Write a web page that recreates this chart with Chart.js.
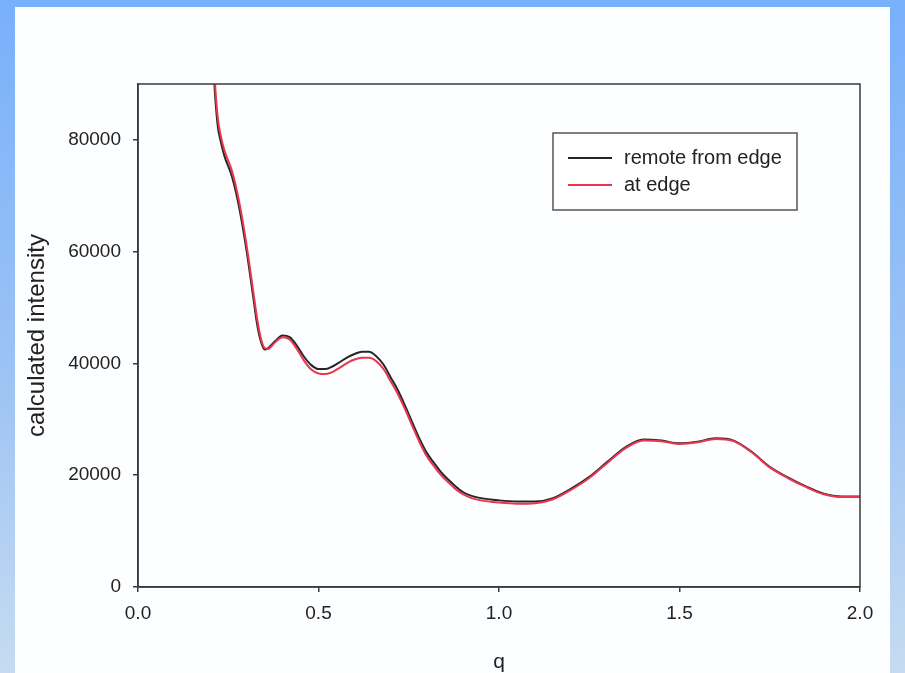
<!DOCTYPE html>
<html>
<head>
<meta charset="utf-8">
<script src="https://cdn.jsdelivr.net/npm/chart.js@4"></script>
<style>
  html, body { margin:0; padding:0; width:905px; height:673px; overflow:hidden; }
  body { background: linear-gradient(180deg, #78b0fb 0%, #9cc3f4 55%, #c6dbf1 100%); position:relative; }
  #panel { position:absolute; left:15px; top:7px; width:875px; height:680px; background:#fdfeff; }
  #c { position:absolute; left:0; top:0; }
</style>
</head>
<body>
<div id="panel"></div>
<canvas id="c" width="905" height="673"></canvas>
<script>
const qValues = [0.20,0.21,0.22,0.23,0.24,0.26,0.28,0.30,0.32,0.33,0.34,0.35,0.36,0.38,0.40,0.42,0.44,0.46,0.48,0.50,0.52,0.54,0.56,0.58,0.60,0.62,0.64,0.66,0.68,0.70,0.72,0.74,0.76,0.78,0.80,0.82,0.84,0.86,0.88,0.90,0.92,0.95,1.00,1.05,1.10,1.15,1.20,1.25,1.30,1.35,1.40,1.45,1.50,1.55,1.60,1.65,1.70,1.75,1.80,1.85,1.90,1.95,2.00];
const remoteFromEdge = [110000,92000,83000,79500,77000,73500,68000,60500,51500,47000,44000,42500,42700,44000,45000,44700,43200,41200,39700,39000,39000,39500,40300,41100,41700,42100,42100,41300,39800,37500,35200,32400,29400,26500,24000,22200,20500,19200,18000,17000,16400,15900,15500,15300,15300,15900,17600,19700,22400,25000,26400,26200,25700,26000,26600,26200,24200,21500,19600,18000,16700,16200,16200];
const atEdge = [112000,94000,84500,80500,78000,74500,69000,61500,52500,48000,44600,42800,42600,43800,44700,44300,42600,40500,38900,38200,38100,38500,39300,40100,40700,41000,41000,40400,39000,36800,34500,31800,28800,25900,23400,21600,20000,18700,17500,16600,16000,15500,15100,14900,15000,15700,17400,19500,22200,24800,26200,26100,25600,25900,26500,26100,24100,21400,19500,17900,16600,16100,16100];
const seriesLabels = ["remote from edge", "at edge"];
const xTicks = [0, 0.5, 1.0, 1.5, 2.0];
const yTicks = [0, 20000, 40000, 60000, 80000];

const FONT = "'Liberation Sans', Arial, sans-serif";
const TXT = '#222222';

const framePlugin = {
  id: 'frame',
  afterDraw(chart) {
    const {ctx, chartArea: a} = chart;
    ctx.save();
    ctx.strokeStyle = '#3a3a3a';
    ctx.lineWidth = 1.5;
    ctx.strokeRect(a.left, a.top, a.right - a.left, a.bottom - a.top);
    // legend box
    const bx = 553, by = 133, bw = 244, bh = 77;
    ctx.fillStyle = '#ffffff';
    ctx.fillRect(bx, by, bw, bh);
    ctx.strokeStyle = '#555';
    ctx.lineWidth = 1.5;
    ctx.strokeRect(bx, by, bw, bh);
    chart.data.datasets.slice().reverse().forEach((ds, i) => {
      const y = by + 25 + i * 27;
      ctx.strokeStyle = ds.borderColor;
      ctx.lineWidth = 2;
      ctx.beginPath(); ctx.moveTo(568, y); ctx.lineTo(612, y); ctx.stroke();
      ctx.fillStyle = TXT;
      ctx.font = "20px " + FONT;
      ctx.textBaseline = 'middle';
      ctx.textAlign = 'left';
      ctx.fillText(ds.label, 624, y);
    });
    ctx.restore();
  }
};

new Chart(document.getElementById('c'), {
  type: 'line',
  data: {
    datasets: [
      { label: seriesLabels[1], data: qValues.map((q, i) => ({x: q, y: atEdge[i]})), borderColor: '#e8364c', borderWidth: 2, pointRadius: 0, cubicInterpolationMode: 'monotone', fill: false },
      { label: seriesLabels[0], data: qValues.map((q, i) => ({x: q, y: remoteFromEdge[i]})), borderColor: '#262626', borderWidth: 2, pointRadius: 0, cubicInterpolationMode: 'monotone', fill: false }
    ]
  },
  options: {
    responsive: false,
    animation: false,
    devicePixelRatio: 1,
    layout: { padding: { top: 84, right: 45, left: 0, bottom: 0 } },
    plugins: { legend: { display: false }, tooltip: { enabled: false } },
    scales: {
      x: {
        type: 'linear', min: 0, max: 2,
        afterBuildTicks: s => { s.ticks = xTicks.map(v => ({value: v})); },
        afterFit: s => { s.height = 86; },
        grid: { display: true, drawOnChartArea: false, drawTicks: true, tickLength: 5, color: '#3a3a3a', lineWidth: 1.5 },
        border: { display: true, color: '#3a3a3a', width: 1.5 },
        ticks: { color: TXT, font: { family: FONT, size: 19 }, padding: 10, callback: v => Number(v).toFixed(1), maxRotation: 0 },
        title: { display: true, text: 'q', color: TXT, font: { family: FONT, size: 21, lineHeight: 1 }, padding: { top: 0, bottom: 0 } }
      },
      y: {
        type: 'linear', min: 0, max: 90000,
        afterBuildTicks: s => { s.ticks = yTicks.map(v => ({value: v})); },
        afterFit: s => { s.width = 138; },
        grid: { display: true, drawOnChartArea: false, drawTicks: true, tickLength: 5, color: '#3a3a3a', lineWidth: 1.5 },
        border: { display: true, color: '#3a3a3a', width: 1.5 },
        ticks: { color: TXT, font: { family: FONT, size: 19 }, padding: 12, callback: v => String(v) },
        title: { display: true, text: 'calculated intensity', color: TXT, font: { family: FONT, size: 24, lineHeight: 1 }, padding: { top: 25, bottom: 0 } }
      }
    }
  },
  plugins: [framePlugin]
});
</script>
</body>
</html>
